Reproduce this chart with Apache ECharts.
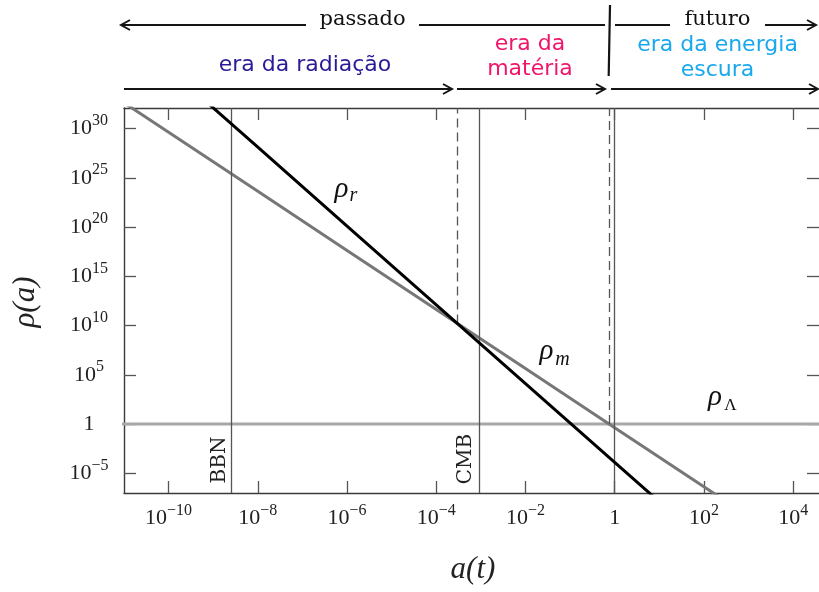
<!DOCTYPE html>
<html>
<head>
<meta charset="utf-8">
<script src="https://cdn.jsdelivr.net/npm/echarts@6/dist/echarts.min.js"></script>
<style>
  html, body { margin: 0; padding: 0; background: #ffffff; }
  #chart { width: 819px; height: 592px; }
</style>
</head>
<body>
<div id="chart"></div>
<script>
// Scale factor a and energy densities, in units of the dark-energy density
const aSamples  = [1e-12, 1e-10, 1e-8, 1e-6, 1e-4, 1e-2, 1, 1e2, 1e4, 1e5];
const rhoRad    = [1.3e44, 1.3e36, 1.3e28, 1.3e20, 1.3e12, 1.3e4, 1.3e-4, 1.3e-12, 1.3e-20, 1.3e-24];
const rhoMat    = [4.3e35, 4.3e29, 4.3e23, 4.3e17, 4.3e11, 4.3e5, 0.43, 4.3e-7, 4.3e-13, 4.3e-16];
const rhoLambda = [1, 1, 1, 1, 1, 1, 1, 1, 1, 1];

// Marked epochs
const aBBN = 2.6e-9;
const aCMB = 9.1e-4;
const aToday = 1;
const aEqRadMat = 3.0e-4,  rhoEqRadMat = 1.6e10;
const aEqMatLambda = 0.755, rhoEqMatLambda = 1;

// Axis extents and ticks, as powers of ten
const xExpRange = [-11, 4.58];
const yExpRange = [-7, 32.1];
const xTickExps = [-10, -8, -6, -4, -2, 0, 2, 4];
const yTickExps = [-5, 0, 5, 10, 15, 20, 25, 30];

const SERIF = '"Liberation Serif", "DejaVu Serif", serif';
const SERIF_W = '"DejaVu Serif", serif';
const SANS = '"DejaVu Sans", sans-serif';
const FRAME = '#3a3a3a';
const RULE = '#555555';

const yMinVal = Math.pow(10, yExpRange[0]);
const yMaxVal = Math.pow(10, yExpRange[1]);

function pairs(xs, ys) { return xs.map((x, i) => [x, ys[i]]); }

function powLabel(v) {
  const n = Math.round(v);
  if (n === 0) return '{one|1}';
  return '{b|10}{s|' + (n < 0 ? '\u2212' : '') + Math.abs(n) + '}';
}
const powRich = {
  b:   { fontFamily: SERIF, fontSize: 22, lineHeight: 22, color: '#222' },
  s:   { fontFamily: SERIF, fontSize: 16, lineHeight: 16, padding: [0, 0, 16, 0], color: '#222' },
  one: { fontFamily: SERIF, fontSize: 22, lineHeight: 21, color: '#222' }
};

function tickAxis(extra) {
  return Object.assign({
    type: 'value',
    gridIndex: 0,
    splitLine: { show: false },
    axisLine: { show: true, onZero: false, lineStyle: { color: FRAME, width: 1.4 } }
  }, extra);
}

// Arrow pieces for the era annotations above the plot
const INK = '#151515';
function seg(x1, y1, x2, y2, w) {
  return { type: 'line', shape: { x1, y1, x2, y2 }, style: { stroke: INK, lineWidth: w || 2 } };
}
function head(x, y, dir) {
  return {
    type: 'polyline',
    shape: { points: [[x - dir * 9, y - 5], [x, y], [x - dir * 9, y + 5]] },
    style: { stroke: INK, lineWidth: 2, fill: null }
  };
}
function txt(x, y, text, font, color, rotation) {
  return {
    type: 'text', x, y, rotation: rotation || 0,
    style: { text, font, fill: color || '#111', align: 'center', verticalAlign: 'middle' }
  };
}

const graphics = [
  // past / future row
  seg(121, 25, 306, 25), head(121, 25, -1),
  txt(362.5, 20, 'passado', '21px ' + SERIF_W),
  seg(419, 25, 605, 25),
  seg(610, 5, 608.7, 76, 2.2),
  seg(615, 25, 670, 25),
  txt(717.5, 20, 'futuro', '21px ' + SERIF_W),
  seg(765, 25, 816, 25), head(816, 25, 1),
  // eras row
  seg(124, 89, 452, 89), head(452, 89, 1),
  seg(457, 89, 605, 89), head(605, 89, 1),
  seg(611, 89, 818, 89), head(818, 89, 1),
  txt(305, 65.5, 'era da radiação', '22px ' + SANS, '#2a1a96'),
  txt(530, 44, 'era da', '22px ' + SANS, '#f0156b'),
  txt(530, 69, 'matéria', '22px ' + SANS, '#f0156b'),
  txt(717.5, 45.5, 'era da energia', '22px ' + SANS, '#18a8ee'),
  txt(717.5, 70.5, 'escura', '22px ' + SANS, '#18a8ee'),
  // event labels
  txt(220, 460, 'BBN', '20px ' + SERIF_W, '#222', Math.PI / 2),
  txt(466, 459, 'CMB', '20px ' + SERIF_W, '#222', Math.PI / 2),
  // curve labels
  txt(341.5, 189, 'ρ', 'italic 29px ' + SERIF, '#111'),
  txt(353.5, 196, 'r', 'italic 20px ' + SERIF, '#111'),
  txt(546.5, 351, 'ρ', 'italic 29px ' + SERIF, '#111'),
  txt(562.5, 360, 'm', 'italic 20px ' + SERIF, '#111'),
  txt(715, 397, 'ρ', 'italic 29px ' + SERIF, '#111'),
  txt(730.5, 406, 'Λ', '17px ' + SERIF, '#111'),
  // axis titles
  txt(26, 302, 'ρ(a)', 'italic 31px ' + SERIF, '#222', Math.PI / 2),
  txt(473, 570, 'a(t)', 'italic 31px ' + SERIF, '#222')
];

function vRule(a, lo, hi, type) {
  return [
    { coord: [a, lo], lineStyle: { type: type || 'solid', color: RULE, width: 1.3 } },
    { coord: [a, hi] }
  ];
}

const chart = echarts.init(document.getElementById('chart'), null, { renderer: 'canvas' });

chart.setOption({
  animation: false,
  backgroundColor: '#ffffff',
  grid: { left: 124, top: 108, right: 0, bottom: 99, containLabel: false },
  xAxis: [
    { type: 'log', logBase: 10, show: false, gridIndex: 0,
      min: Math.pow(10, xExpRange[0]), max: Math.pow(10, xExpRange[1]) },
    tickAxis({
      position: 'bottom', min: xExpRange[0], max: xExpRange[1],
      axisTick: { show: true, inside: true, length: 12, customValues: xTickExps,
                  lineStyle: { color: RULE, width: 1.3 } },
      axisLabel: { show: true, customValues: xTickExps, margin: 14.5,
                   formatter: powLabel, rich: powRich }
    }),
    tickAxis({
      position: 'top', min: xExpRange[0], max: xExpRange[1],
      axisTick: { show: true, inside: true, length: 12, customValues: xTickExps,
                  lineStyle: { color: RULE, width: 1.3 } },
      axisLabel: { show: false }
    })
  ],
  yAxis: [
    { type: 'log', logBase: 10, show: false, gridIndex: 0, min: yMinVal, max: yMaxVal },
    tickAxis({
      position: 'left', min: yExpRange[0], max: yExpRange[1],
      axisTick: { show: true, inside: true, length: 12, customValues: yTickExps,
                  lineStyle: { color: RULE, width: 1.3 } },
      axisLabel: { show: true, customValues: yTickExps, margin: 35, align: 'center',
                   formatter: powLabel, rich: powRich }
    }),
    tickAxis({
      position: 'right', min: yExpRange[0], max: yExpRange[1],
      axisLine: { show: false, onZero: false },
      axisTick: { show: true, inside: true, length: 12, customValues: yTickExps,
                  lineStyle: { color: RULE, width: 1.3 } },
      axisLabel: { show: false }
    })
  ],
  series: [
    {
      name: 'epochs', type: 'line', xAxisIndex: 0, yAxisIndex: 0, data: [], z: 1,
      markLine: {
        silent: true, symbol: 'none', animation: false,
        label: { show: false },
        data: [
          vRule(aBBN, yMinVal, yMaxVal),
          vRule(aCMB, yMinVal, yMaxVal),
          vRule(aToday, yMinVal, yMaxVal),
          vRule(aEqRadMat, rhoEqRadMat, yMaxVal, [9, 5]),
          vRule(aEqMatLambda, rhoEqMatLambda, yMaxVal, [9, 5])
        ]
      }
    },
    {
      name: 'ρΛ', type: 'line', xAxisIndex: 0, yAxisIndex: 0, z: 3,
      data: pairs(aSamples, rhoLambda), showSymbol: false, clip: true,
      lineStyle: { color: '#a8a8a8', width: 3 }
    },
    {
      name: 'ρm', type: 'line', xAxisIndex: 0, yAxisIndex: 0, z: 4,
      data: pairs(aSamples, rhoMat), showSymbol: false, clip: true,
      lineStyle: { color: '#777777', width: 3 }
    },
    {
      name: 'ρr', type: 'line', xAxisIndex: 0, yAxisIndex: 0, z: 5,
      data: pairs(aSamples, rhoRad), showSymbol: false, clip: true,
      lineStyle: { color: '#000000', width: 3 }
    }
  ],
  graphic: graphics
});
</script>
</body>
</html>
